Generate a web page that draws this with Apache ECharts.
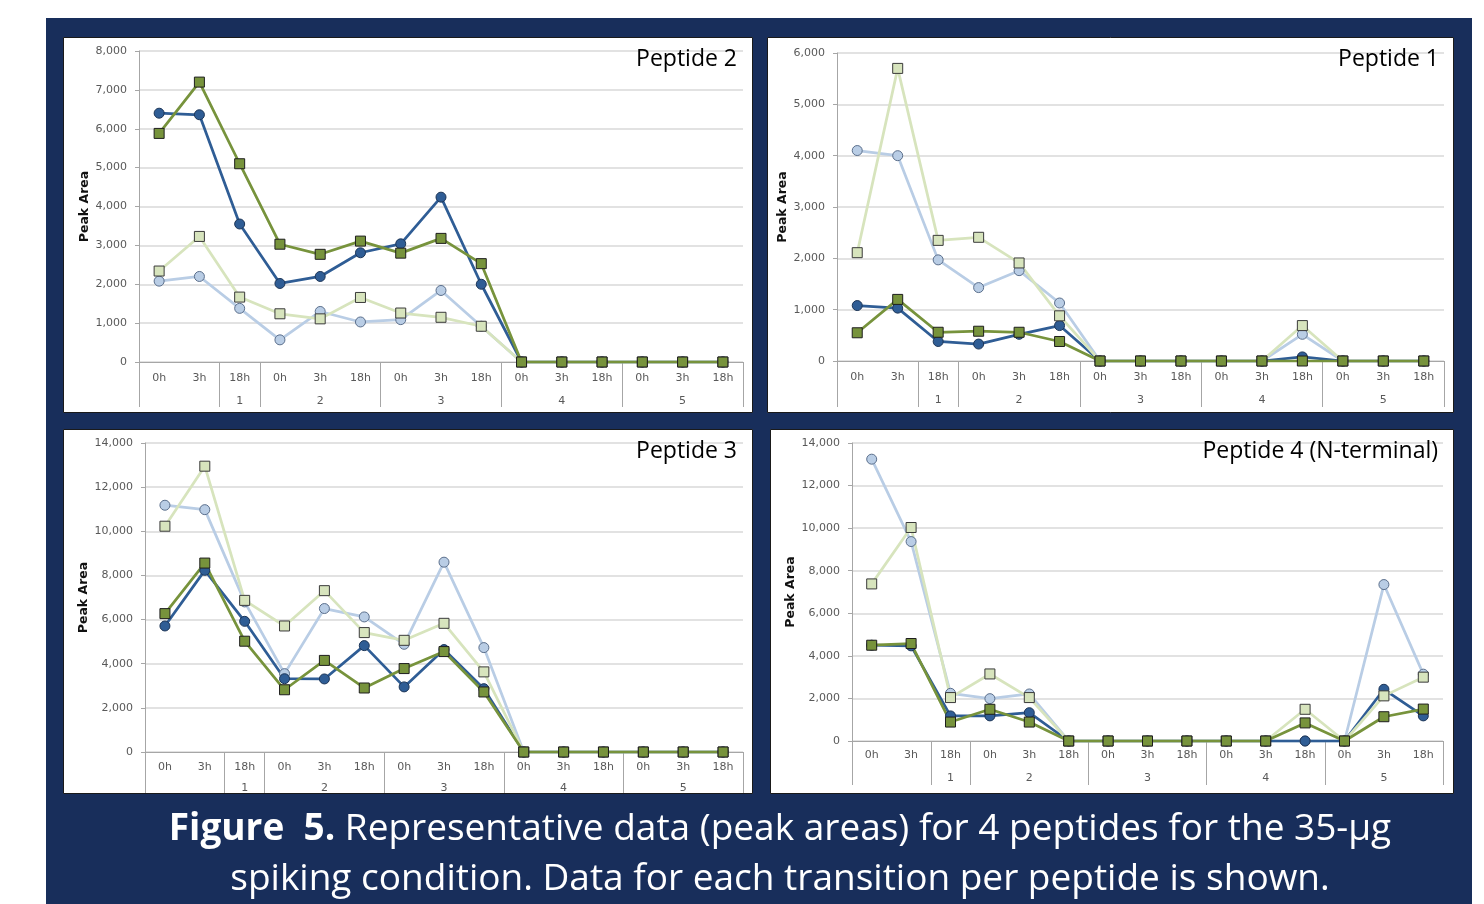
<!DOCTYPE html>
<html>
<head>
<meta charset="utf-8">
<script src="https://cdn.jsdelivr.net/npm/echarts@6/dist/echarts.min.js"></script>
<style>
  html, body { margin: 0; padding: 0; background: #fff; }
  #chart { width: 1484px; height: 904px; }
</style>
</head>
<body>
<div id="chart"></div>
<script>
// x axis: time points, and the "sample" column as it sits in the sheet
const categories = ['0h', '3h', '18h', '0h', '3h', '18h', '0h', '3h', '18h', '0h', '3h', '18h', '0h', '3h', '18h'];
const groupColumn = ['', '', '1', '2', '', '', '3', '', '', '4', '', '', '5', '', ''];

// Peptide 2
const p2DarkBlue   = [6400, 6360, 3550, 2020, 2200, 2810, 3040, 4240, 2000, 0, 0, 0, 0, 0, 0];
const p2LightBlue  = [2080, 2200, 1380,  570, 1300, 1030, 1090, 1840,  920, 0, 0, 0, 0, 0, 0];
const p2LightGreen = [2340, 3230, 1670, 1240, 1110, 1660, 1260, 1150,  920, 0, 0, 0, 0, 0, 0];
const p2DarkGreen  = [5880, 7200, 5100, 3030, 2770, 3110, 2800, 3180, 2530, 0, 0, 0, 0, 0, 0];

// Peptide 1
const p1DarkBlue   = [1080, 1030,  380,  330,  520,  690, 0, 0, 0, 0, 0,  80, 0, 0, 0];
const p1LightBlue  = [4100, 4000, 1970, 1430, 1760, 1130, 0, 0, 0, 0, 0, 520, 0, 0, 0];
const p1LightGreen = [2110, 5700, 2350, 2410, 1910,  880, 0, 0, 0, 0, 0, 690, 0, 0, 0];
const p1DarkGreen  = [ 550, 1200,  560,  580,  560,  380, 0, 0, 0, 0, 0,   0, 0, 0, 0];

// Peptide 3
const p3DarkBlue   = [ 5710,  8230, 5920, 3320, 3310, 4820, 2950, 4640, 2870, 0, 0, 0, 0, 0, 0];
const p3LightBlue  = [11180, 10980, 6800, 3550, 6500, 6120, 4880, 8600, 4730, 0, 0, 0, 0, 0, 0];
const p3LightGreen = [10230, 12950, 6870, 5710, 7310, 5410, 5060, 5830, 3630, 0, 0, 0, 0, 0, 0];
const p3DarkGreen  = [ 6270,  8560, 5020, 2820, 4150, 2900, 3780, 4550, 2720, 0, 0, 0, 0, 0, 0];

// Peptide 4 (N-terminal)
const p4DarkBlue   = [ 4500,  4470, 1180, 1180, 1330, 0, 0, 0, 0, 0, 0,    0, 0, 2430, 1180];
const p4LightBlue  = [13240,  9370, 2240, 1990, 2210, 0, 0, 0, 0, 0, 0,    0, 0, 7350, 3140];
const p4LightGreen = [ 7380, 10030, 2040, 3150, 2040, 0, 0, 0, 0, 0, 0, 1490, 0, 2120, 3000];
const p4DarkGreen  = [ 4500,  4580,  890, 1490,  890, 0, 0, 0, 0, 0, 0,  850, 0, 1140, 1500];

const navy = '#182e5b';
const axisGray = '#a6a6a6';
const labelFont = 'DejaVu Sans';

// multi-level axis like excel: a new group starts at every non-empty cell
const groupEdges = [0];
groupColumn.forEach((g, i) => { if (i > 0 && g !== '') groupEdges.push(i); });
groupEdges.push(categories.length);
const groupSpans = groupEdges.slice(0, -1).map((start, k) => ({
  center: (start + groupEdges[k + 1]) / 2,
  label: groupColumn[start]
}));

// drawing order: light blue, dark blue, light green, dark green (last on top)
const lineStyles = [
  { color: '#b9cde5', symbol: 'circle', border: '#5b6f8c', size: 10 },
  { color: '#2f5d95', symbol: 'circle', border: '#1c3557', size: 10 },
  { color: '#d7e4bd', symbol: 'rect',   border: '#3a3a3a', size: 10 },
  { color: '#77933c', symbol: 'rect',   border: '#1e1e1e', size: 10 }
];

const panels = [
  { title: 'Peptide 2', titleAt: [737, 59], box: [63, 37, 689, 375],
    grid: { left: 139, top: 51, width: 604, height: 311 }, max: 8000, interval: 1000,
    nameGap: 47, catTick: 23, groupTick: 45, catMargin: 11, groupMargin: 34,
    data: [p2LightBlue, p2DarkBlue, p2LightGreen, p2DarkGreen] },
  { title: 'Peptide 1', titleAt: [1439, 59], box: [767, 37, 686, 375],
    grid: { left: 837, top: 53, width: 607, height: 308 }, max: 6000, interval: 1000,
    nameGap: 48, catTick: 24, groupTick: 46, catMargin: 11, groupMargin: 34,
    data: [p1LightBlue, p1DarkBlue, p1LightGreen, p1DarkGreen] },
  { title: 'Peptide 3', titleAt: [737, 451], box: [63, 429, 689, 364],
    grid: { left: 145, top: 443, width: 598, height: 309 }, max: 14000, interval: 2000,
    nameGap: 55, catTick: 20, groupTick: 41, catMargin: 10, groupMargin: 31,
    data: [p3LightBlue, p3DarkBlue, p3LightGreen, p3DarkGreen] },
  { title: 'Peptide 4 (N-terminal)', titleAt: [1438, 451], box: [770, 429, 683, 364],
    grid: { left: 852, top: 443, width: 591, height: 298 }, max: 14000, interval: 2000,
    nameGap: 55, catTick: 22, groupTick: 44, catMargin: 9, groupMargin: 32,
    data: [p4LightBlue, p4DarkBlue, p4LightGreen, p4DarkGreen] }
];

const grids = [], xAxes = [], yAxes = [], series = [], graphics = [];

graphics.push({ type: 'rect', z: -20, silent: true,
  shape: { x: 46, y: 18, width: 1426, height: 886 }, style: { fill: navy } });

panels.forEach((p, i) => {
  graphics.push({ type: 'rect', z: -10, silent: true,
    shape: { x: p.box[0] + 0.5, y: p.box[1] + 0.5, width: p.box[2], height: p.box[3] },
    style: { fill: '#fff', stroke: '#1a1a1a', lineWidth: 1 } });
  graphics.push({ type: 'text', z: 10, silent: true, x: p.titleAt[0], y: p.titleAt[1],
    style: { text: p.title, fontFamily: 'Open Sans', fontSize: 23, fill: '#000',
      align: 'right', verticalAlign: 'middle' } });

  grids.push(p.grid);

  xAxes.push({
    type: 'category', gridIndex: i, position: 'bottom', data: categories, boundaryGap: true,
    axisLine: { lineStyle: { color: axisGray } },
    axisTick: { length: p.catTick, lineStyle: { color: axisGray } },
    axisLabel: { interval: 0, fontFamily: labelFont, fontSize: 11, color: '#595959', margin: p.catMargin }
  });
  xAxes.push({
    type: 'value', gridIndex: i, position: 'bottom', min: 0, max: categories.length,
    axisLine: { show: false }, splitLine: { show: false },
    axisTick: { show: true, customValues: groupEdges, length: p.groupTick, lineStyle: { color: axisGray } },
    axisLabel: {
      customValues: groupSpans.map(s => s.center),
      formatter: v => { const s = groupSpans.find(g => g.center === v); return s ? s.label : ''; },
      fontFamily: labelFont, fontSize: 11, color: '#595959', margin: p.groupMargin
    }
  });

  yAxes.push({
    type: 'value', gridIndex: i, min: 0, max: p.max, interval: p.interval,
    name: 'Peak Area', nameLocation: 'middle', nameGap: p.nameGap,
    nameTextStyle: { fontFamily: labelFont, fontWeight: 'bold', fontSize: 12.5, color: '#111' },
    axisLine: { show: true, onZero: false, lineStyle: { color: axisGray } },
    axisTick: { show: true, length: 4, lineStyle: { color: axisGray } },
    axisLabel: { fontFamily: labelFont, fontSize: 11, color: '#595959', margin: 12,
      formatter: v => v.toLocaleString('en-US') },
    splitLine: { lineStyle: { color: '#d9d9d9', width: 1.5 } }
  });

  p.data.forEach((values, k) => {
    const st = lineStyles[k];
    series.push({
      type: 'line', xAxisIndex: 2 * i, yAxisIndex: i, data: values,
      symbol: st.symbol, symbolSize: st.size, showAllSymbol: true,
      lineStyle: { color: st.color, width: 2.75 },
      itemStyle: { color: st.color, borderColor: st.border, borderWidth: 1 },
      emphasis: { disabled: true }
    });
  });
});

graphics.push({ type: 'text', z: 10, silent: true, x: 780, y: 829,
  style: {
    text: '{b|Figure  5.} Representative data (peak areas) for 4 peptides for the 35-µg',
    fontFamily: 'Open Sans', fontSize: 37, fill: '#fff', align: 'center', verticalAlign: 'middle',
    rich: { b: { fontFamily: 'Open Sans', fontSize: 37, fontWeight: 'bold', fill: '#fff' } }
  } });
graphics.push({ type: 'text', z: 10, silent: true, x: 780, y: 879,
  style: {
    text: 'spiking condition. Data for each transition per peptide is shown.',
    fontFamily: 'Open Sans', fontSize: 37, fill: '#fff', align: 'center', verticalAlign: 'middle'
  } });

const chart = echarts.init(document.getElementById('chart'));
chart.setOption({
  animation: false,
  backgroundColor: '#fff',
  graphic: { elements: graphics },
  grid: grids,
  xAxis: xAxes,
  yAxis: yAxes,
  series: series
});
</script>
</body>
</html>
